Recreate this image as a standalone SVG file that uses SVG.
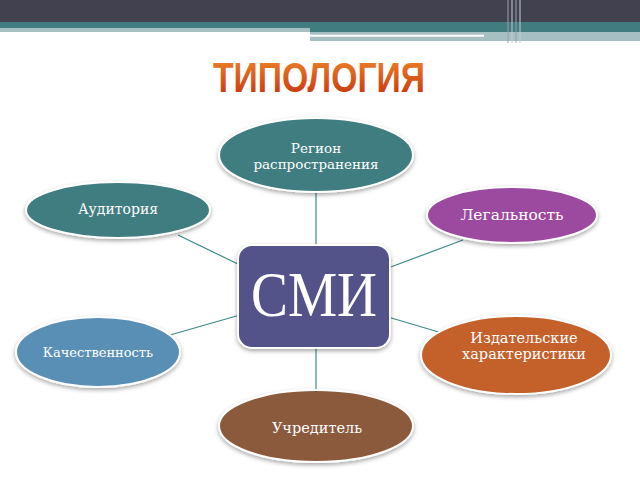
<svg xmlns="http://www.w3.org/2000/svg" width="640" height="480" viewBox="0 0 640 480">
<defs>
<linearGradient id="tg" x1="0" y1="0" x2="0" y2="1">
<stop offset="0" stop-color="#f08a2a"/>
<stop offset="1" stop-color="#c42c0c"/>
</linearGradient>
<filter id="sh" x="-20%" y="-20%" width="140%" height="150%">
<feDropShadow dx="0" dy="2" stdDeviation="2" flood-color="#000" flood-opacity="0.35"/>
</filter>
</defs>
<style>
.node{stroke:#ffffff;stroke-width:2;filter:url(#sh)}
.lbl{font-family:"DejaVu Serif","Liberation Serif",serif;fill:#ffffff;text-anchor:middle}
.conn line{stroke:#3f8a86;stroke-width:1.2}
</style>
<rect width="640" height="480" fill="#ffffff"/>
<g id="header">
<rect x="0" y="0" width="640" height="22" fill="#41414f"/>
<rect x="0" y="22" width="640" height="6" fill="#417d80"/>
<rect x="0" y="28" width="310" height="4" fill="#a5bfc3"/>
<rect x="310" y="28" width="330" height="4" fill="#417d80"/>
<rect x="310" y="32" width="330" height="9" fill="#a5bfc3"/>
<rect x="310" y="34.7" width="174" height="2" fill="#ffffff"/>
<rect x="421" y="41" width="219" height="2" fill="#ffffff"/>
<line x1="508" y1="0" x2="508" y2="43" stroke="#9aa0b0" stroke-width="1"/>
<line x1="512" y1="0" x2="512" y2="43" stroke="#c8ccd6" stroke-width="1"/>
<line x1="516" y1="0" x2="516" y2="43" stroke="#9aa0b0" stroke-width="1"/>
<line x1="520" y1="0" x2="520" y2="43" stroke="#c8ccd6" stroke-width="1"/>
</g>
<g id="title">
<text x="319" y="92" font-family="Liberation Sans, Arial, sans-serif" font-weight="bold" font-size="42" fill="url(#tg)" text-anchor="middle" textLength="212" lengthAdjust="spacingAndGlyphs">ТИПОЛОГИЯ</text>
</g>
<g id="connectors" class="conn">
<line x1="316" y1="193" x2="316" y2="246"/>
<line x1="178" y1="235" x2="242" y2="266"/>
<line x1="463" y1="240" x2="388" y2="268"/>
<line x1="170" y1="335" x2="240" y2="315"/>
<line x1="388" y1="317" x2="442" y2="333"/>
<line x1="316" y1="347" x2="316" y2="390"/>
</g>
<g id="smi">
<rect x="238" y="245" width="152" height="103" rx="14" fill="#53528a" class="node"/>
<text x="314" y="316" font-family="Liberation Serif, Times New Roman, serif" font-size="64" fill="#ffffff" text-anchor="middle" textLength="126" lengthAdjust="spacingAndGlyphs">СМИ</text>
</g>
<g id="region">
<ellipse cx="316" cy="155" rx="97" ry="37" fill="#417d80" class="node"/>
<text class="lbl" x="316" y="153" font-size="13.5">Регион</text>
<text class="lbl" x="316" y="169" font-size="13.5">распространения</text>
</g>
<g id="audience">
<ellipse cx="118" cy="210" rx="92" ry="28" fill="#417d80" class="node"/>
<text class="lbl" x="118" y="214" font-size="14">Аудитория</text>
</g>
<g id="legal">
<ellipse cx="512" cy="215" rx="85" ry="28" fill="#9c4aa0" class="node"/>
<text class="lbl" x="512" y="220" font-size="15.5">Легальность</text>
</g>
<g id="quality">
<ellipse cx="98" cy="352" rx="82" ry="35" fill="#5a8fb5" class="node"/>
<text class="lbl" x="98" y="357" font-size="13">Качественность</text>
</g>
<g id="publish">
<ellipse cx="516" cy="355" rx="95" ry="39" fill="#c4602a" class="node"/>
<text class="lbl" x="524" y="343" font-size="14.5">Издательские</text>
<text class="lbl" x="524" y="359" font-size="14.5">характеристики</text>
</g>
<g id="founder">
<ellipse cx="316" cy="426" rx="97" ry="36" fill="#8b5a3c" class="node"/>
<text class="lbl" x="317" y="433" font-size="14.5">Учредитель</text>
</g>
</svg>
